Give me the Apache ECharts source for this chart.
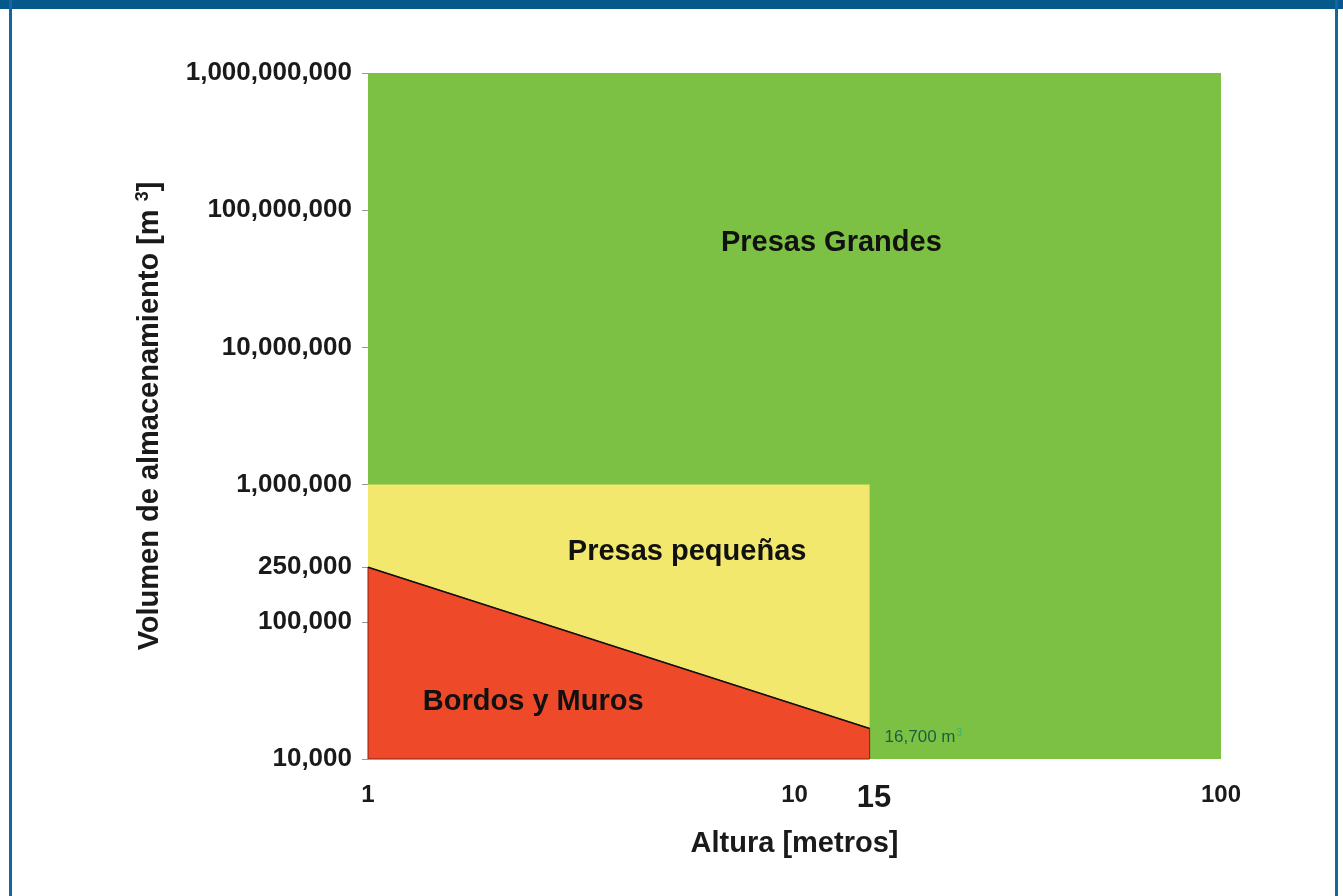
<!DOCTYPE html>
<html>
<head>
<meta charset="utf-8">
<script src="https://cdn.jsdelivr.net/npm/echarts@6/dist/echarts.min.js"></script>
<style>
  html, body { margin: 0; padding: 0; background: #ffffff; }
  #chart { position: absolute; left: 0; top: 0; width: 1343px; height: 896px; }
  .bar { position: absolute; background: #03598a; }
</style>
</head>
<body>
<div id="chart"></div>
<div class="bar" style="left:0;top:0;width:1343px;height:9px;"></div>
<div class="bar" style="left:9px;top:0;width:3px;height:896px;background:#1566a0;"></div>
<div class="bar" style="left:1335px;top:0;width:3px;height:896px;background:#1566a0;"></div>
<script>
// ---- data ----
const xTicks = [1, 10, 15, 100];
const yTicks = [10000, 100000, 250000, 1000000, 10000000, 100000000, 1000000000];
const regionNames = ['Presas Grandes', 'Presas pequeñas', 'Bordos y Muros'];
const greenRegion = [[1, 10000], [100, 10000], [100, 1000000000], [1, 1000000000]];
const yellowRegion = [[1, 10000], [15, 10000], [15, 1000000], [1, 1000000]];
const redRegion = [[1, 10000], [15, 10000], [15, 16700], [1, 250000]];
const boundaryLine = [[1, 250000], [15, 16700]];
const labelPoints = [[12.2, 58000000], [5.6, 320000], [2.44, 26000]];
const notePoint = [15, 16700];
const noteText = '16,700 m';

const FONT = 'Liberation Sans, Arial, sans-serif';

function polySeries(points, fill, stroke, z) {
  return {
    type: 'custom',
    z: z,
    silent: true,
    clip: false,
    data: [points[0]],
    renderItem: function (params, api) {
      const pts = points.map(p => api.coord(p));
      return {
        type: 'polygon',
        shape: { points: pts },
        style: { fill: fill, stroke: stroke || 'none', lineWidth: stroke ? 1 : 0 }
      };
    }
  };
}

const chart = echarts.init(document.getElementById('chart'));
const fmt = v => Math.round(v).toLocaleString('en-US');

chart.setOption({
  animation: false,
  backgroundColor: '#ffffff',
  grid: { left: 368, right: 122, top: 73, bottom: 137 },
  xAxis: {
    type: 'log', min: 1, max: 100, logBase: 10,
    axisLine: { show: false },
    splitLine: { show: false },
    axisTick: { show: false },
    axisLabel: {
      customValues: xTicks,
      margin: 24,
      fontFamily: FONT,
      fontWeight: 'bold', fontSize: 24, color: '#1a1a1a',
      formatter: v => (Math.round(v) === 15 ? '{big|15}' : fmt(v)),
      rich: { big: { fontSize: 31, fontWeight: 'bold', color: '#1a1a1a', fontFamily: FONT, padding: [0, 0, 0, 9] } }
    },
    name: 'Altura [metros]',
    nameLocation: 'middle',
    nameGap: 70,
    nameTextStyle: { fontFamily: FONT, fontWeight: 'bold', fontSize: 29, color: '#1a1a1a' }
  },
  yAxis: {
    type: 'log', min: 10000, max: 1000000000, logBase: 10,
    axisLine: { show: false },
    splitLine: { show: false },
    axisTick: { show: true, customValues: yTicks, length: 6, lineStyle: { color: '#999' } },
    axisLabel: {
      customValues: yTicks,
      margin: 16,
      fontFamily: FONT,
      fontWeight: 'bold', fontSize: 26, color: '#1a1a1a',
      formatter: v => fmt(v)
    },
    name: 'Volumen de almacenamiento [m {sup|3}]',
    nameLocation: 'middle',
    nameGap: 202,
    nameTextStyle: {
      fontFamily: FONT, fontWeight: 'bold', fontSize: 29, color: '#1a1a1a',
      rich: { sup: { fontSize: 18, fontWeight: 'bold', verticalAlign: 'top', padding: [0, 0, 14, 0], color: '#1a1a1a', fontFamily: FONT } }
    }
  },
  series: [
    polySeries(greenRegion, '#7cc143', null, 1),
    polySeries(yellowRegion, '#f1e86d', null, 2),
    polySeries(redRegion, '#ee4a2a', '#8a1e0c', 3),
    {
      type: 'line', z: 4, silent: true, symbol: 'none',
      data: boundaryLine,
      lineStyle: { color: '#111', width: 1.5 }
    },
    {
      type: 'scatter', z: 5, silent: true, symbolSize: 0,
      itemStyle: { opacity: 1 },
      data: labelPoints,
      label: {
        show: true, position: 'inside',
        formatter: p => regionNames[p.dataIndex],
        fontFamily: FONT,
        fontWeight: 'bold', fontSize: 29, color: '#111111'
      }
    },
    {
      type: 'scatter', z: 5, silent: true, symbolSize: 0,
      itemStyle: { opacity: 1 },
      data: [notePoint],
      label: {
        show: true, position: 'right', distance: 15, offset: [0, 9],
        formatter: () => noteText + '{sup|3}',
        fontFamily: FONT,
        fontSize: 17, color: '#1d5e40',
        rich: { sup: { fontSize: 10, color: '#2fb57a', fontFamily: FONT, verticalAlign: 'top', padding: [0, 0, 9, 1] } }
      }
    }
  ]
});
</script>
</body>
</html>
